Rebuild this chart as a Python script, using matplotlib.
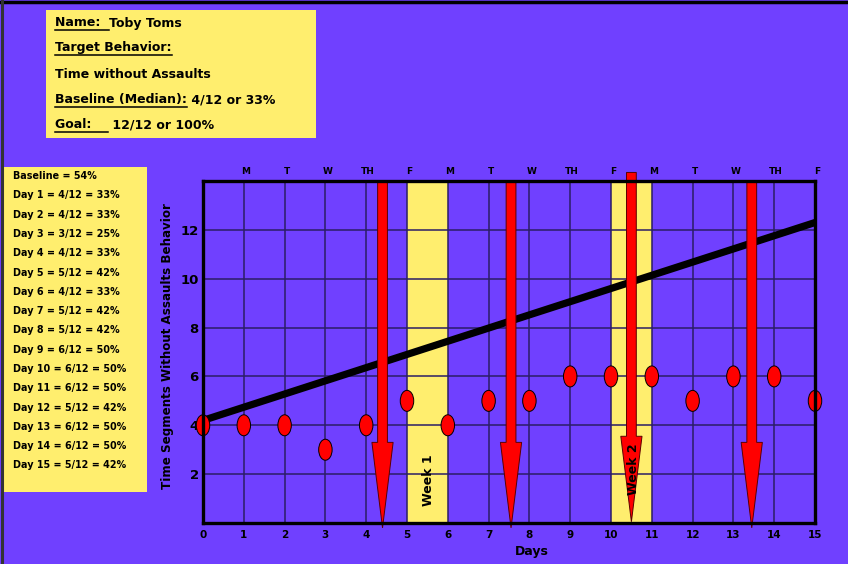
import matplotlib
matplotlib.use("Agg")
import matplotlib.pyplot as plt
from matplotlib.patches import Ellipse, Rectangle, Polygon
from matplotlib.lines import Line2D
from matplotlib.transforms import blended_transform_factory

# ---- data -------------------------------------------------------------
days = list(range(0, 16))
segments = [4, 4, 4, 3, 4, 5, 4, 5, 5, 6, 6, 6, 5, 6, 6, 5]   # day 0 = baseline median
total_segments = 12
weekday_labels = ["M", "T", "W", "TH", "F", "M", "T", "W", "TH", "F",
                  "M", "T", "W", "TH", "F"]
weekday_positions = list(range(1, 16))

band_starts = [5, 10]
band_ends = [6, 11]
band_labels = ["Week 1", "Week 2"]
band_label_x = [5.52, 10.56]
band_label_y = [1.75, 2.2]

aim_x = [0, 15]
aim_y = [4.2, 12.3]

arrow_x = [4.4, 7.55, 10.5, 13.45]
arrow_top = [14.0, 14.0, 14.35, 14.0]
arrow_tip = [-0.2, -0.2, 0.05, -0.2]

baseline_pct = 54
student = "Toby Toms"
behavior = "Time without Assaults"
baseline_text = "4/12 or 33%"
goal_text = "12/12 or 100%"

y_ticks = [2, 4, 6, 8, 10, 12]

# ---- style ------------------------------------------------------------
PURPLE = "#7040FF"
YELLOW = "#FFEE6E"
RED = "#FF0000"
GRID = "#2B1E66"
FONT = "DejaVu Sans"

W, H = 848, 564
fig = plt.figure(figsize=(W / 100, H / 100), dpi=100, facecolor=PURPLE)

def fx(px):
    return px / W

def fy(py):
    return 1 - py / H

ax = fig.add_axes([fx(203), fy(523), fx(815) - fx(203), fy(181) - fy(523)])
ax.set_facecolor(PURPLE)
ax.set_xlim(0, 15)
ax.set_ylim(0, 14)

# week bands
for s, e in zip(band_starts, band_ends):
    ax.axvspan(s, e, color=YELLOW, zorder=0.5, lw=0)

# grid
for xv in range(1, 15):
    ax.axvline(xv, color=GRID, lw=1.1, zorder=1)
for yv in range(2, 14, 2):
    ax.axhline(yv, color=GRID, lw=1.1, zorder=1)

for sp in ax.spines.values():
    sp.set_linewidth(2.4)
    sp.set_color("black")
    sp.set_zorder(6)

ax.set_xticks(days)
ax.set_xticklabels([str(d) for d in days], fontsize=7.5, fontweight="bold",
                   family=FONT)
ax.set_yticks(y_ticks)
ax.set_yticklabels([str(v) for v in y_ticks], fontsize=9.5, fontweight="bold",
                   family=FONT)
ax.tick_params(length=0)
ax.tick_params(axis="y", pad=3)
ax.tick_params(axis="x", pad=5)

# weekday labels along the top
top_tr = blended_transform_factory(ax.transData, ax.transAxes)
for xv, lab in zip(weekday_positions, weekday_labels):
    ax.text(xv + 0.05, 1.015, lab, transform=top_tr, ha="center", va="bottom",
            fontsize=6.5, fontweight="bold", family=FONT)

# aim line
ax.plot(aim_x, aim_y, color="black", lw=5.2, solid_capstyle="butt", zorder=3)

# data points as tall ellipses
for d, v in zip(days, segments):
    ax.add_patch(Ellipse((d, v), 0.33, 0.86, facecolor=RED, edgecolor="black",
                         lw=0.7, zorder=4, clip_on=False))

# red arrows
shaft_w = 0.24
head_w = 0.52
head_len = 3.5
for xa, top, tip in zip(arrow_x, arrow_top, arrow_tip):
    hs = tip + head_len
    pts = [(xa - shaft_w / 2, top), (xa + shaft_w / 2, top),
           (xa + shaft_w / 2, hs), (xa + head_w / 2, hs), (xa, tip),
           (xa - head_w / 2, hs), (xa - shaft_w / 2, hs)]
    ax.add_patch(Polygon(pts, closed=True, facecolor=RED, edgecolor="#5a0000",
                         lw=0.7, zorder=5, clip_on=False))

# week labels
for lx, ly, lab in zip(band_label_x, band_label_y, band_labels):
    ax.text(lx, ly, lab, rotation=90, ha="center", va="center", fontsize=9,
            fontweight="bold", family=FONT, zorder=7)

# axis titles
fig.text(fx(532), fy(551), "Days", ha="center", va="center", fontsize=9,
         fontweight="bold", family=FONT)
fig.text(fx(168), fy(346), "Time Segments Without Assaults Behavior",
         rotation=90, ha="center", va="center", fontsize=8.6,
         fontweight="bold", family=FONT)

# ---- information boxes -------------------------------------------------
fig.patches.append(Rectangle((fx(46), fy(138)), fx(316) - fx(46),
                             fy(10) - fy(138), transform=fig.transFigure,
                             facecolor=YELLOW, edgecolor="none", zorder=1))
fig.patches.append(Rectangle((fx(3), fy(492)), fx(147) - fx(3),
                             fy(167) - fy(492), transform=fig.transFigure,
                             facecolor=YELLOW, edgecolor="none", zorder=1))

# frame lines at the top and left of the sheet
fig.add_artist(Line2D([0, 1], [fy(1.5), fy(1.5)], transform=fig.transFigure,
                      color="black", lw=2.5))
fig.add_artist(Line2D([fx(1.5), fx(1.5)], [0, 1], transform=fig.transFigure,
                      color="#333333", lw=2.2))

info_lines = [
    ("Name: ", student),
    ("Target Behavior:", ""),
    ("", behavior),
    ("Baseline (Median):", " " + baseline_text),
    ("Goal:  ", " " + goal_text),
]
info_y = [23, 48, 74, 100, 125]

fig.canvas.draw()
renderer = fig.canvas.get_renderer()
for (under, rest), py in zip(info_lines, info_y):
    x0 = 55
    if under:
        t = fig.text(fx(x0), fy(py), under, ha="left", va="center",
                     fontsize=9, fontweight="bold", family=FONT, zorder=3)
        bb = t.get_window_extent(renderer)
        x1 = bb.x1
        if under.endswith(" "):
            x1 += 4 * (len(under) - len(under.rstrip()))
        yline = bb.y0 - 0.5
        fig.add_artist(Line2D([bb.x0 / W, x1 / W], [yline / H, yline / H],
                              transform=fig.transFigure, color="black",
                              lw=1.1, zorder=3))
        x0 = x1
    if rest:
        fig.text(x0 / W, fy(py), rest, ha="left", va="center", fontsize=9,
                 fontweight="bold", family=FONT, zorder=3)

summary = [f"Baseline = {baseline_pct}%"]
for d, v in zip(days[1:], segments[1:]):
    pct = round(v / total_segments * 100)
    summary.append(f"Day {d} = {v}/{total_segments} = {pct}%")
for i, line in enumerate(summary):
    fig.text(fx(13), fy(176 + i * 19.3), line, ha="left", va="center",
             fontsize=6.9, fontweight="bold", family=FONT, zorder=3)

fig.savefig("out.png", dpi=100, facecolor=PURPLE)
